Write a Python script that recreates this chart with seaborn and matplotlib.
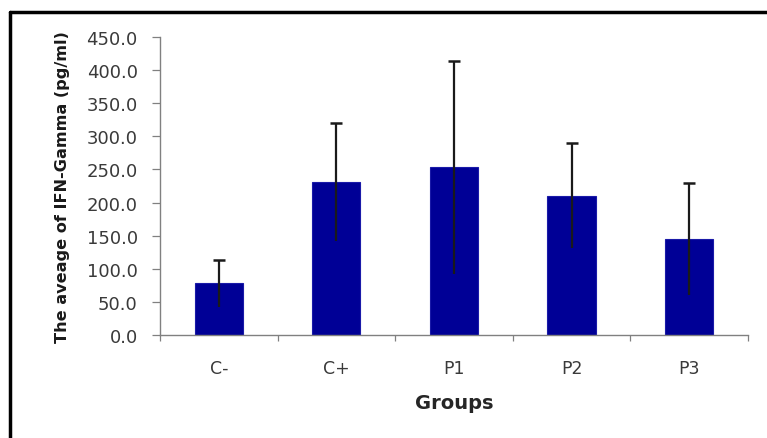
import numpy as np
import pandas as pd
import matplotlib
matplotlib.use("Agg")
import matplotlib.pyplot as plt
import matplotlib.ticker as mticker
from matplotlib.lines import Line2D
import seaborn as sns

# data
groups = ["C-", "C+", "P1", "P2", "P3"]
means = [78.0, 231.0, 253.0, 210.5, 145.0]
sds = [36.0, 89.0, 161.0, 79.0, 84.0]

sns.set_theme(style="white")
plt.rcParams["font.family"] = ["DejaVu Sans"]

df = pd.DataFrame({"group": groups, "mean": means, "sd": sds})

fig = plt.figure(figsize=(7.67, 4.39), dpi=100)
ax = fig.add_axes([0.2086, 0.2346, 0.7666, 0.6788])

sns.barplot(data=df, x="group", y="mean", ax=ax, color="#000096",
            saturation=1, width=0.41, edgecolor="#1a1aa8", linewidth=0.8)

pos = np.arange(len(groups))
eb = ax.errorbar(pos, df["mean"], yerr=df["sd"], fmt="none",
                 ecolor="#1a1a1a", elinewidth=1.6, capsize=4.5, capthick=1.8)
# only the top cap shows in the original
eb[1][0].set_visible(False)

ax.set_ylim(0, 450)
ax.set_xlim(-0.5, len(groups) - 0.5)
ax.yaxis.set_major_locator(mticker.MultipleLocator(50))
ax.yaxis.set_major_formatter(mticker.FormatStrFormatter("%.1f"))

# category boundary ticks like Excel
ax.set_xticks(pos)
ax.set_xticks(np.arange(-0.5, len(groups)), minor=True)
ax.tick_params(axis="x", which="major", length=0, pad=17,
               labelsize=12.5, labelcolor="#3a3a3a")
ax.tick_params(axis="x", which="minor", length=4, width=0.9,
               color="#808080", direction="out", bottom=True)
ax.tick_params(axis="y", length=6, width=0.9, color="#808080",
               direction="out", left=True, labelsize=13,
               labelcolor="#3a3a3a", pad=10)

for s in ["top", "right"]:
    ax.spines[s].set_visible(False)
for s in ["left", "bottom"]:
    ax.spines[s].set_color("#808080")
    ax.spines[s].set_linewidth(1.0)

ax.set_xlabel("Groups", fontsize=14, fontweight="bold", color="#262626",
              labelpad=12)
ax.set_ylabel("The aveage of IFN-Gamma (pg/ml)", fontsize=11.6,
              fontweight="bold", color="#1a1a1a", labelpad=12)

# cropped frame: top and left border lines
fig.add_artist(Line2D([0.0125, 1.0], [0.971, 0.971], color="black",
                      linewidth=2.5, transform=fig.transFigure))
fig.add_artist(Line2D([0.0125, 0.0125], [0.0, 0.971], color="black",
                      linewidth=2.5, transform=fig.transFigure))

fig.savefig("out.png", dpi=100, facecolor="white")
plt.close()
